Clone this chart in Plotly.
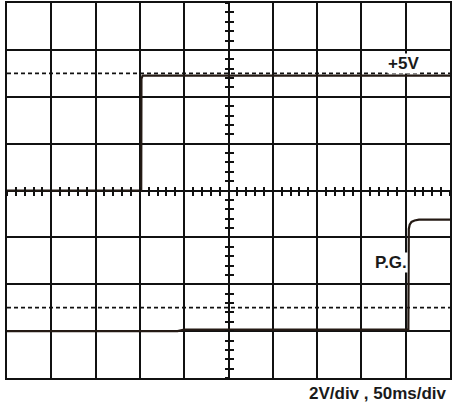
import plotly.graph_objects as go

# Scope screen: 10 horizontal x 8 vertical divisions
n_xdiv = 10
n_ydiv = 8
minor_step = 0.2

# +5V rail (divisions; ground reference on the centre line)
v5_time = [0.0, 3.03, 3.035, 3.06, 10.0]
v5_level = [4.0, 4.0, 6.38, 6.45, 6.45]

# P.G. signal (ground reference one division above the bottom)
pg_time = [0.0, 3.85, 4.0, 9.06, 9.07, 9.09, 9.13, 9.2, 9.3, 10.0]
pg_level = [1.0, 1.0, 1.03, 1.03, 3.18, 3.27, 3.33, 3.36, 3.38, 3.38]

# Dashed reference levels (+5V above each ground)
ref_levels = [6.5, 1.5]

ink = "#111111"
trace_ink = "#241a14"

fig = go.Figure()

for lvl in ref_levels:
    fig.add_trace(go.Scatter(
        x=[0, n_xdiv], y=[lvl, lvl], mode="lines",
        line=dict(color=ink, width=1.7, dash="4px,3px"),
        hoverinfo="skip", showlegend=False))

fig.add_trace(go.Scatter(
    x=v5_time, y=v5_level, mode="lines",
    line=dict(color=trace_ink, width=2.2),
    showlegend=False, name="+5V"))

fig.add_trace(go.Scatter(
    x=pg_time, y=pg_level, mode="lines",
    line=dict(color=trace_ink, width=2.2),
    showlegend=False, name="P.G."))

# empty traces so the centre graticule tick axes get drawn
for xa, ya in (("x2", "y2"), ("x3", "y3")):
    fig.add_trace(go.Scatter(x=[None], y=[None], xaxis=xa, yaxis=ya,
                             showlegend=False, hoverinfo="skip"))

grid = dict(showgrid=True, gridcolor=ink, gridwidth=1.6, zeroline=False,
            showline=True, linecolor=ink, linewidth=2, mirror=True,
            ticks="", showticklabels=False, fixedrange=True)

centre_ticks = dict(showgrid=False, zeroline=False, showline=False,
                    showticklabels=False, ticklen=4, tickwidth=1.5,
                    tickcolor=ink, dtick=minor_step, tick0=0,
                    anchor="free", position=0.5)

fig.update_layout(
    width=453, height=405,
    margin=dict(l=7, r=1, t=2, b=27),
    paper_bgcolor="white", plot_bgcolor="white",
    xaxis=dict(range=[0, n_xdiv], dtick=1, **grid),
    yaxis=dict(range=[0, n_ydiv], dtick=1, **grid),
    xaxis2=dict(range=[0, n_xdiv], overlaying="x", ticks="outside", **centre_ticks),
    xaxis3=dict(range=[0, n_xdiv], overlaying="x", ticks="inside", **centre_ticks),
    yaxis2=dict(range=[0, n_ydiv], overlaying="y", ticks="outside", **centre_ticks),
    yaxis3=dict(range=[0, n_ydiv], overlaying="y", ticks="inside", **centre_ticks),
    font=dict(family="Liberation Sans, Arial, sans-serif", color="#1a1a1a"),
)

label_font = dict(family="Liberation Sans, Arial, sans-serif", size=17, color="#1a1a1a")
fig.add_annotation(x=8.94, y=6.72, text="<b>+5V</b>", showarrow=False,
                   font=label_font, bgcolor="white", borderpad=0)
fig.add_annotation(x=8.66, y=2.47, text="<b>P.G.</b>", showarrow=False,
                   font=label_font, bgcolor="white", borderpad=0)
fig.add_annotation(x=1.0, xref="paper", y=-0.0, yref="paper",
                   xanchor="right", yanchor="top", yshift=-4, xshift=-1,
                   text="<b>2V/div , 50ms/div</b>", showarrow=False,
                   font=label_font)

fig.write_html("out.html")
